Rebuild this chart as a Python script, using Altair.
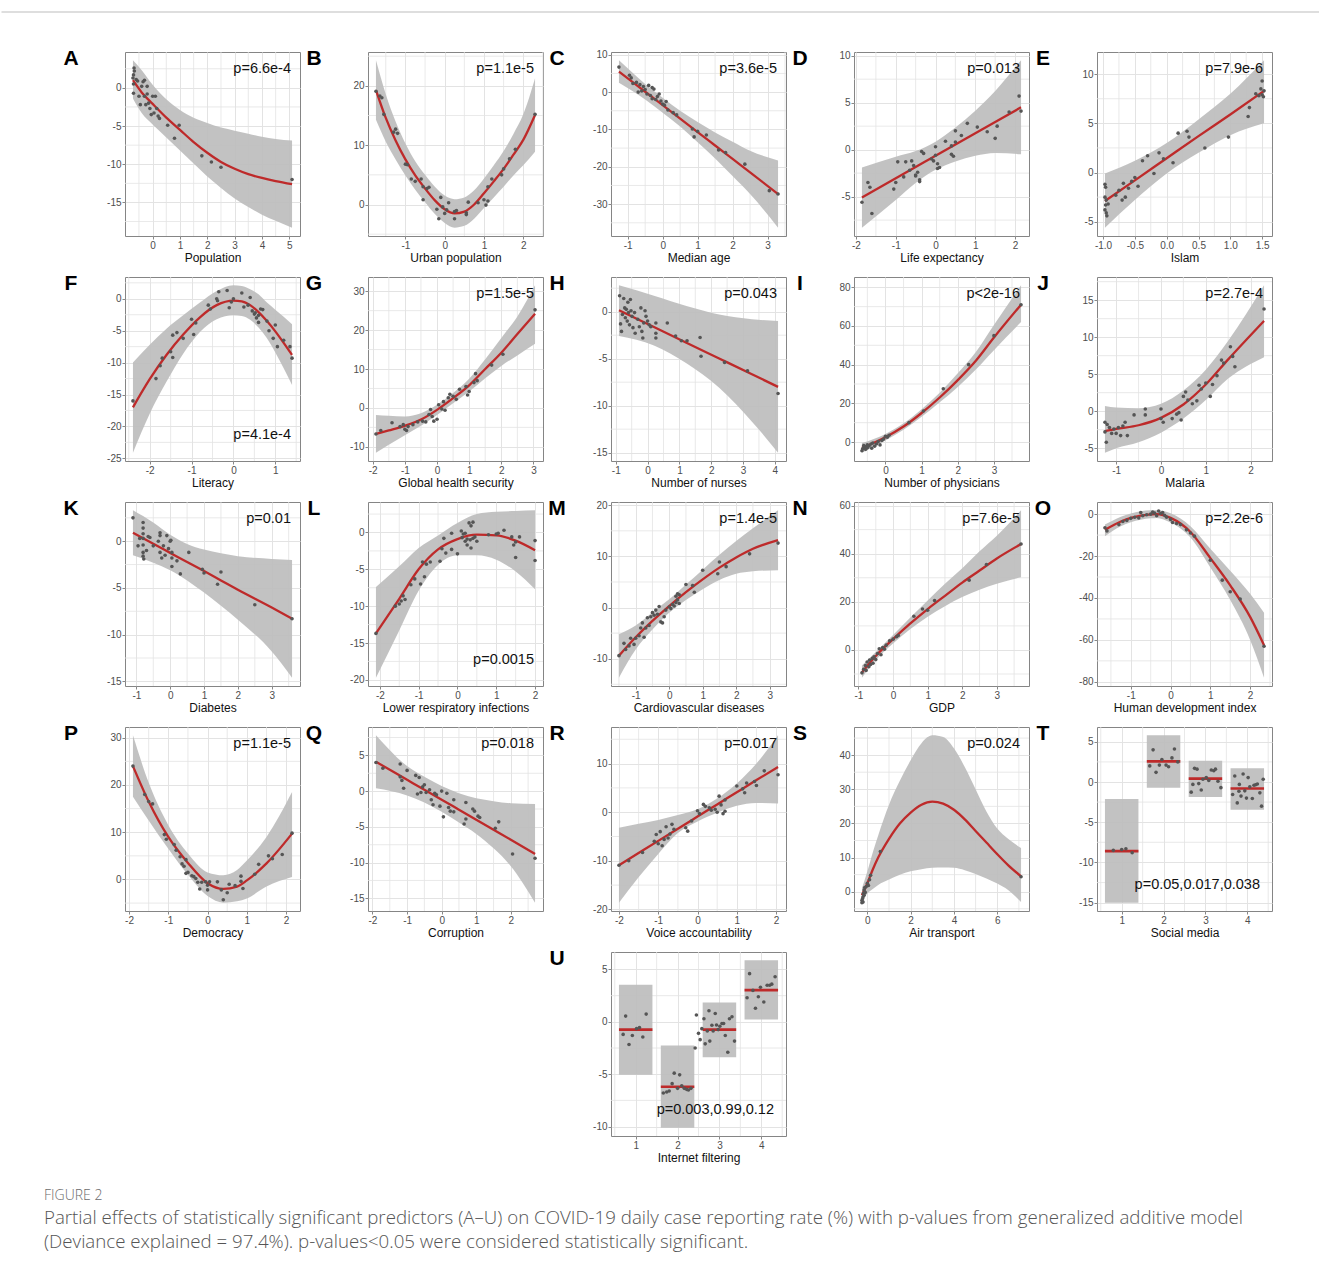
import altair as alt
import pandas as pd

# ---------------- data ----------------
A_cx = [-0.72, -0.4, 0, 0.5, 1, 1.5, 2, 2.5, 3, 3.5, 4, 4.5, 5.1]
A_cm = [1.0, -0.6, -2.1, -3.9, -5.5, -7.1, -8.5, -9.7, -10.6, -11.3, -11.8, -12.2, -12.6]
A_hi = [3.6, 2.3, 0.4, -1.5, -2.9, -3.9, -4.6, -5.2, -5.6, -6.0, -6.4, -6.7, -6.9]
A_lo = [-1.4, -3.3, -4.8, -6.5, -8.2, -9.9, -11.6, -13.1, -14.5, -15.6, -16.6, -17.4, -18.3]
A_pts = [(-0.68, 2.6), (-0.67, 2.2), (-0.7, 1.7), (-0.72, 1.3), (-0.7, 0.5), (-0.7, -0.7), (-0.6, 1.1),
         (-0.55, 0.9), (-0.5, -1.1), (-0.45, -2.2), (-0.4, 0.2), (-0.35, 0.8), (-0.3, 1.0), (-0.3, -1.1),
         (-0.25, -2.2), (-0.2, 0.2), (-0.2, -0.8), (-0.15, -2.0), (-0.1, -2.7), (-0.05, -3.5), (0.0, -1.1),
         (0.05, -3.3), (0.1, -1.1), (0.15, -2.7), (0.2, -3.7), (0.25, -4.0), (0.55, -4.9), (0.8, -6.6),
         (0.97, -4.9), (1.8, -8.9), (2.15, -9.7), (2.5, -10.4), (5.1, -12.0)]

B_cx = [-1.75, -1.5, -1.25, -1, -0.75, -0.5, -0.25, 0, 0.25, 0.5, 0.75, 1, 1.25, 1.5, 1.75, 2, 2.3]
B_cm = [19.3, 14.6, 10.8, 7.6, 4.9, 2.7, 0.7, -0.8, -1.5, -1.2, 0.0, 1.9, 3.9, 6.0, 8.4, 10.9, 15.1]
B_hi = [24.3, 18.6, 14.0, 10.3, 7.3, 5.0, 3.0, 1.5, 0.9, 1.2, 2.4, 4.4, 6.6, 9.0, 11.9, 15.2, 21.3]
B_lo = [14.3, 10.6, 7.6, 4.9, 2.5, 0.4, -1.6, -3.1, -3.9, -3.6, -2.4, -0.6, 1.2, 3.0, 4.9, 6.6, 8.9]
B_pts = [(-1.75, 19.1), (-1.65, 18.3), (-1.6, 18.0), (-1.55, 15.2), (-1.3, 12.2), (-1.25, 12.7), (-1.2, 12.0),
         (-1.0, 6.8), (-0.95, 6.7), (-0.85, 4.3), (-0.75, 3.9), (-0.6, 4.3), (-0.55, 3.0), (-0.45, 2.7),
         (-0.4, 2.9), (-0.55, 0.8), (-0.2, -0.8), (-0.15, -2.4), (-0.1, 1.2), (-0.05, -0.4), (0.0, -1.5),
         (0.1, 0.3), (0.05, -0.9), (0.25, -2.4), (0.25, -1.2), (0.3, -1.0), (0.55, -1.7), (0.55, -1.4),
         (0.6, 0.4), (0.85, 0.3), (1.0, 0.8), (1.05, -0.1), (1.1, 0.6), (1.1, 3.0), (1.2, 4.3), (1.45, 5.0),
         (1.5, 6.0), (1.65, 7.7), (1.8, 9.3), (2.3, 15.2)]

C_cx = [-1.25, -0.5, 0, 0.5, 1, 1.5, 2, 2.5, 3.3]
C_cm = [5.5, 0.1, -3.5, -7.1, -10.7, -14.3, -17.9, -21.5, -27.3]
C_hi = [8.5, 2.2, -1.5, -5.0, -8.0, -10.8, -13.3, -15.7, -18.3]
C_lo = [2.5, -2.0, -5.5, -9.2, -13.4, -17.8, -22.5, -27.3, -36.3]
C_pts = [(-1.25, 6.7), (-0.95, 4.5), (-0.9, 3.8), (-0.85, 2.3), (-0.75, 2.6), (-0.7, 0.0), (-0.65, 2.0),
         (-0.6, 0.3), (-0.55, 1.5), (-0.5, 0.7), (-0.45, -0.5), (-0.4, 1.8), (-0.35, -0.9), (-0.3, 1.2),
         (-0.3, -1.8), (-0.25, 0.8), (-0.2, -2.0), (-0.15, -1.2), (-0.1, -0.5), (-0.05, -2.4), (0.0, -3.2),
         (0.1, -2.5), (0.05, -3.5), (0.15, -4.8), (0.3, -5.5), (0.4, -6.1), (0.85, -9.9), (0.9, -12.0),
         (1.0, -10.5), (1.25, -11.5), (1.6, -15.5), (1.8, -16.2), (2.35, -19.3), (3.05, -26.4), (3.3, -27.3)]

D_cx = [-1.85, -1, -0.5, 0, 0.5, 1, 1.5, 2.15]
D_cm = [-5.1, -3.05, -1.85, -0.65, 0.55, 1.75, 2.95, 4.5]
D_hi = [-1.9, -0.75, -0.15, 0.85, 2.35, 4.15, 6.25, 9.5]
D_lo = [-8.3, -5.35, -3.55, -2.15, -1.25, -0.65, -0.35, -0.5]
D_pts = [(-1.85, -5.6), (-1.7, -3.5), (-1.65, -4.0), (-1.6, -6.8), (-1.05, -4.2), (-1.0, -3.5), (-0.95, -1.3),
         (-0.8, -2.9), (-0.75, -1.3), (-0.65, -2.2), (-0.6, -1.2), (-0.55, -1.7), (-0.5, -2.7), (-0.5, -2.8),
         (-0.45, -2.4), (-0.4, -3.2), (-0.4, -3.4), (-0.35, -0.2), (-0.3, -0.4), (-0.1, -1.0), (-0.05, -1.2),
         (0.0, 0.3), (0.0, -0.6), (0.05, -1.5), (0.05, -2.0), (0.1, -1.9), (0.25, 0.9), (0.4, 0.4), (0.4, -0.5),
         (0.45, -0.7), (0.5, 2.0), (0.5, 0.8), (0.65, 1.5), (0.8, 2.8), (1.05, 2.4), (1.3, 1.9), (1.5, 1.2),
         (1.55, 2.5), (1.85, 4.0), (2.1, 5.7), (2.15, 4.1)]

E_cx = [-0.97, -0.5, 0, 0.5, 1.0, 1.53]
E_cm = [-2.9, -0.8, 1.45, 3.7, 5.9, 8.3]
E_hi = [-0.1, 1.2, 3.0, 5.4, 8.0, 11.4]
E_lo = [-5.6, -2.8, -0.1, 2.0, 3.8, 5.0]
E_pts = [(-0.97, -1.2), (-0.96, -1.5), (-0.97, -2.5), (-0.95, -2.8), (-0.96, -3.3), (-0.97, -3.8),
         (-0.95, -4.1), (-0.94, -4.4), (-0.92, -3.2), (-0.8, -2.3), (-0.75, -1.8), (-0.7, -2.8), (-0.68, -1.1),
         (-0.65, -2.5), (-0.6, -1.6), (-0.55, -0.9), (-0.5, -0.5), (-0.45, -1.4), (-0.38, 1.2), (-0.3, 1.7),
         (-0.2, -0.1), (-0.12, 2.0), (-0.05, 1.4), (0.1, 1.0), (0.18, 4.0), (0.32, 4.2), (0.35, 3.6), (0.6, 2.5),
         (0.97, 3.6), (1.28, 5.7), (1.3, 6.6), (1.4, 8.0), (1.45, 7.8), (1.48, 8.5), (1.5, 9.3), (1.52, 7.7),
         (1.53, 8.3), (1.5, 7.9)]

F_cx = [-2.4, -2.0, -1.6, -1.2, -0.8, -0.4, 0.0, 0.2, 0.4, 0.6, 0.8, 1.0, 1.2, 1.4]
F_cm = [-17.0, -12.6, -8.8, -5.6, -2.9, -1.0, -0.3, -0.4, -1.0, -2.1, -3.5, -5.1, -6.9, -8.8]
F_hi = [-10.0, -7.2, -4.7, -2.6, -0.6, 1.2, 2.1, 2.0, 1.5, 0.7, -0.6, -1.7, -2.8, -4.0]
F_lo = [-24.1, -18.0, -13.0, -8.6, -5.2, -3.2, -2.6, -2.7, -3.3, -4.5, -6.2, -8.4, -10.9, -13.5]
F_pts = [(-2.4, -16.0), (-1.85, -12.5), (-1.75, -10.5), (-1.7, -9.3), (-1.5, -8.3), (-1.45, -9.2),
         (-1.45, -5.7), (-1.35, -5.3), (-1.2, -6.2), (-1.0, -3.2), (-0.95, -5.6), (-0.9, -3.8), (-0.6, -1.0),
         (-0.55, -1.6), (-0.4, 0.0), (-0.38, -0.3), (-0.35, 1.1), (-0.15, 1.3), (-0.1, -1.4), (-0.05, -0.5),
         (0.0, 0.0), (0.2, 0.9), (0.25, -1.3), (0.35, -1.0), (0.4, 0.2), (0.45, -1.9), (0.5, -2.4),
         (0.52, -2.2), (0.55, -3.0), (0.6, -2.6), (0.6, -3.7), (0.65, -1.6), (0.7, -1.7), (0.8, -3.5),
         (0.85, -5.0), (0.95, -6.2), (1.0, -4.1), (1.05, -7.5), (1.2, -6.5), (1.35, -7.5), (1.4, -9.3)]

G_cx = [-1.9, -1.5, -1, -0.5, 0, 0.5, 1, 1.5, 2, 2.5, 3.05]
G_cm = [-6.7, -5.8, -4.6, -3.0, -0.5, 2.5, 5.8, 10.0, 14.2, 19.0, 24.2]
G_hi = [-1.8, -2.0, -2.2, -1.4, 0.8, 3.8, 7.5, 12.5, 18.0, 23.5, 31.5]
G_lo = [-11.5, -9.5, -7.0, -4.6, -1.8, 1.2, 4.2, 7.6, 10.8, 13.5, 16.5]
G_pts = [(-1.9, -6.7), (-1.75, -5.8), (-1.4, -3.8), (-1.15, -4.8), (-1.05, -4.3), (-1.0, -5.5), (-0.95, -5.8),
         (-0.9, -4.8), (-0.75, -4.3), (-0.6, -3.6), (-0.45, -3.4), (-0.35, -3.6), (-0.25, -1.7), (-0.2, -0.4),
         (-0.15, -2.2), (-0.1, -3.4), (0.0, -2.9), (0.05, 0.8), (0.15, -0.3), (0.2, 1.6), (0.25, -0.6),
         (0.35, 2.6), (0.4, 3.5), (0.5, 3.0), (0.6, 2.2), (0.7, 4.8), (0.9, 5.5), (0.95, 3.3), (1.0, 4.2),
         (1.15, 6.5), (1.2, 8.8), (1.25, 7.0), (1.7, 11.0), (2.05, 13.8), (3.05, 25.2)]

H_cx = [-0.9, 0.2, 1.22, 2.25, 3.28, 4.1]
H_cm = [0.15, -1.64, -3.3, -4.98, -6.66, -8.0]
H_hi = [2.8, 1.7, 0.6, -0.3, -0.8, -1.0]
H_lo = [-2.6, -3.6, -5.5, -8.1, -11.7, -15.0]
H_pts = [(-0.88, 1.7), (-0.85, -1.3), (-0.82, -2.1), (-0.79, -0.3), (-0.75, 1.4), (-0.72, 0.4), (-0.7, -0.65),
         (-0.67, 0.25), (-0.64, -1.0), (-0.62, 1.0), (-0.6, -0.1), (-0.57, -1.4), (-0.54, 1.3), (-0.52, 0.1),
         (-0.49, -0.5), (-0.46, -1.7), (-0.41, -0.1), (-0.39, -2.3), (-0.31, -0.8), (-0.26, -1.6), (-0.21, 0.4),
         (-0.18, -2.1), (-0.15, -2.8), (-0.12, -1.2), (-0.08, 0.1), (-0.05, -0.5), (0.0, -1.0), (0.05, -1.4),
         (0.1, -1.6), (0.26, -1.2), (0.26, -2.3), (0.26, -2.8), (0.62, -1.2), (0.88, -2.6), (1.06, -3.1),
         (1.24, -3.1), (1.65, -2.75), (1.68, -4.75), (2.42, -5.4), (3.14, -6.3), (4.1, -8.7)]

I_cx = [-0.65, 0, 0.5, 1, 1.5, 2, 2.5, 3, 3.75]
I_cm = [-3, 2.5, 8, 15, 23, 32, 42, 54, 71]
I_hi = [-0.5, 4.2, 9.7, 17, 25.5, 35.5, 46.5, 60.5, 81]
I_lo = [-5.5, 0.8, 6.3, 13, 20.5, 28.5, 37.5, 47.5, 62]
I_pts = [(-0.65, -4.5), (-0.63, -3.5), (-0.6, -2.8), (-0.6, -1.8), (-0.55, -3.8), (-0.55, -2.5), (-0.5, -1.5),
         (-0.5, -3.0), (-0.45, -2.0), (-0.4, -1.0), (-0.38, -3.2), (-0.35, -0.5), (-0.3, -2.2), (-0.25, -1.0),
         (-0.2, 0.2), (-0.15, -1.5), (-0.1, 0.8), (-0.05, 1.5), (0.0, 3.0), (0.05, 2.5), (0.1, 3.5), (0.65, 10.0),
         (1.05, 16.0), (1.6, 27.5), (2.3, 40.0), (3.0, 55.0), (3.75, 71.0)]

J_cx = [-1.25, -1, -0.5, 0, 0.5, 1, 1.5, 2.3]
J_cm = [-2.7, -2.4, -1.9, -0.9, 0.9, 3.6, 7.0, 12.2]
J_hi = [0.7, 0.5, 0.4, 1.0, 2.8, 5.6, 9.5, 17.0]
J_lo = [-5.6, -5.0, -4.2, -2.9, -1.0, 1.5, 4.4, 7.3]
J_pts = [(-1.25, -1.5), (-1.25, -2.8), (-1.22, -4.2), (-1.2, -1.8), (-1.15, -2.2), (-1.1, -3.0), (-1.05, -2.4),
         (-1.0, -3.0), (-0.95, -2.2), (-0.9, -3.3), (-0.85, -2.0), (-0.8, -1.5), (-0.75, -3.3), (-0.6, -0.5),
         (-0.35, 0.3), (-0.35, -0.5), (0.0, 0.3), (0.0, -1.0), (0.05, -1.5), (0.25, -1.0), (0.35, -0.4),
         (0.4, -0.2), (0.45, -1.2), (0.5, 2.0), (0.55, 2.6), (0.6, 1.5), (0.7, 1.0), (0.8, 1.4), (0.85, 3.5),
         (0.9, 3.0), (1.0, 3.8), (1.1, 2.0), (1.15, 3.6), (1.25, 4.8), (1.35, 6.9), (1.4, 6.5), (1.55, 8.7),
         (1.6, 7.4), (1.65, 6.0), (2.3, 13.8)]

K_cx = [-1.1, -0.5, 0, 0.5, 1, 1.5, 2, 3, 3.6]
K_cm = [0.9, -0.27, -1.25, -2.23, -3.2, -4.2, -5.2, -7.1, -8.3]
K_hi = [3.3, 2.0, 0.7, -0.3, -0.9, -1.3, -1.6, -1.9, -2.0]
K_lo = [-1.5, -2.3, -3.1, -4.2, -5.5, -6.9, -8.4, -11.8, -14.6]
K_pts = [(-1.1, 2.5), (-0.95, -0.5), (-0.9, 0.3), (-0.8, 2.0), (-0.8, 1.4), (-0.8, 0.8), (-0.8, 0.3),
         (-0.8, -0.4), (-0.8, -1.2), (-0.8, -1.6), (-0.78, -1.9), (-0.7, -1.0), (-0.65, 0.5), (-0.6, 0.4),
         (-0.5, -0.5), (-0.35, 0.0), (-0.3, 0.9), (-0.3, 0.6), (-0.3, -1.2), (-0.25, -1.8), (-0.2, -0.5),
         (-0.15, -1.5), (-0.1, 0.6), (-0.05, -0.8), (0.0, 0.0), (0.02, 0.1), (0.05, -1.2), (0.05, -1.8),
         (0.05, -2.7), (0.2, -2.1), (0.3, -3.5), (0.55, -1.2), (0.95, -3.0), (1.0, -3.4), (1.4, -4.6),
         (1.5, -3.3), (2.5, -6.8), (3.6, -8.3)]

L_cx = [-2.1, -1.5, -1, -0.5, 0, 0.5, 1, 1.5, 2]
L_cm = [-13.7, -9.0, -5.0, -2.3, -0.9, -0.3, -0.4, -1.1, -2.4]
L_hi = [-7.4, -4.6, -2.1, -0.4, 1.3, 2.5, 2.8, 2.9, 3.0]
L_lo = [-19.7, -13.3, -7.9, -4.4, -3.1, -3.1, -3.7, -5.3, -7.7]
L_pts = [(-2.1, -13.7), (-1.6, -10.0), (-1.5, -9.7), (-1.45, -9.3), (-1.4, -8.6), (-1.35, -9.1), (-1.2, -7.1),
         (-1.1, -6.3), (-0.95, -7.0), (-0.9, -4.0), (-0.85, -6.0), (-0.8, -4.3), (-0.7, -4.0), (-0.45, -3.9),
         (-0.4, -2.2), (-0.35, -0.8), (-0.3, -2.8), (-0.15, -0.1), (-0.15, -2.3), (0.0, -2.9), (0.1, 0.2),
         (0.12, -0.7), (0.15, -0.2), (0.2, -1.2), (0.2, -0.1), (0.25, -0.9), (0.25, -1.7), (0.3, 1.3),
         (0.33, -1.0), (0.35, 0.9), (0.35, -2.1), (0.4, 1.4), (0.4, -0.8), (0.45, -0.6), (0.5, -1.2), (0.8, -0.3),
         (1.0, -0.2), (1.05, -0.1), (1.2, 0.3), (1.4, -0.6), (1.45, -1.7), (1.5, -3.4), (1.5, -1.3), (1.6, -0.6),
         (2.0, -1.1), (2.0, -3.8)]

M_cx = [-1.5, -1, -0.5, 0, 0.5, 1, 1.5, 2, 2.5, 3.25]
M_cm = [-9.4, -5.8, -2.6, 0.3, 3.0, 5.5, 7.8, 9.8, 11.5, 13.2]
M_hi = [-5.2, -3.5, -0.9, 1.6, 4.5, 7.4, 10.3, 13.0, 15.5, 19.0]
M_lo = [-13.7, -8.2, -4.3, -1.0, 1.5, 3.6, 5.4, 6.6, 7.1, 7.3]
M_pts = [(-1.5, -9.4), (-1.35, -7.0), (-1.3, -8.2), (-1.2, -7.5), (-1.15, -6.0), (-1.05, -7.2), (-1.0, -6.0),
         (-0.9, -5.5), (-0.85, -4.0), (-0.8, -3.0), (-0.75, -5.8), (-0.7, -4.0), (-0.65, -2.0), (-0.6, -3.5),
         (-0.55, -1.8), (-0.5, -1.0), (-0.45, -1.5), (-0.4, -0.5), (-0.35, -1.3), (-0.3, 0.2), (-0.25, -2.8),
         (-0.2, -3.0), (-0.15, -1.8), (-0.1, -0.5), (0.0, 0.1), (0.05, -0.2), (0.1, 0.6), (0.15, 0.3),
         (0.2, 2.2), (0.2, 1.0), (0.25, 2.7), (0.25, 1.5), (0.3, 0.8), (0.3, 2.5), (0.5, 4.5), (0.7, 4.3),
         (0.75, 3.0), (1.0, 7.3), (1.45, 6.6), (1.5, 8.9), (1.7, 8.0), (2.4, 10.5), (3.25, 12.6)]

N_cx = [-0.9, -0.5, 0, 0.5, 1, 1.5, 2, 2.5, 3, 3.7]
N_cm = [-9.3, -2.5, 4.5, 11, 17, 22.5, 28, 33, 38, 44]
N_hi = [-6.5, -0.8, 6.2, 13.5, 20.5, 27.5, 34, 41, 47.5, 58]
N_lo = [-11.5, -4.2, 2.7, 8.7, 13.8, 18.2, 22, 25, 27.5, 30.2]
N_pts = [(-0.9, -9.5), (-0.85, -8.0), (-0.8, -6.5), (-0.78, -8.5), (-0.75, -5.0), (-0.7, -7.0), (-0.68, -4.2),
         (-0.65, -6.0), (-0.6, -3.5), (-0.58, -5.5), (-0.55, -2.8), (-0.5, -4.0), (-0.45, -1.5), (-0.4, 0.5),
         (-0.35, -2.0), (-0.3, 1.0), (-0.25, 0.3), (-0.2, 2.0), (-0.1, 3.8), (0.0, 4.5), (0.1, 5.5), (0.15, 6.0),
         (0.6, 14.0), (0.85, 17.0), (1.0, 16.5), (1.2, 20.5), (2.2, 29.0), (2.7, 35.5), (3.7, 44.0)]

O_cx = [-1.65, -1.25, -1, -0.5, -0.35, 0, 0.5, 1, 1.5, 2, 2.35]
O_cm = [-7.5, -3.5, -1.8, -0.1, 0.0, -1.8, -8.5, -21, -34, -49, -62.5]
O_hi = [-5.0, -1.2, 0.3, 1.8, 1.8, 0.4, -5.8, -16.5, -27, -38, -47]
O_lo = [-10.5, -5.8, -3.9, -2.0, -1.8, -4.0, -11.2, -25.5, -41, -60, -78]
O_pts = [(-1.65, -6.5), (-1.6, -8.0), (-1.3, -5.0), (-1.2, -3.5), (-1.1, -3.0), (-1.0, -2.0), (-0.9, -1.5),
         (-0.8, -1.8), (-0.75, 0.8), (-0.7, -0.8), (-0.6, -0.3), (-0.5, 0.0), (-0.45, 1.0), (-0.4, 0.5),
         (-0.35, -0.8), (-0.3, 1.5), (-0.25, 0.3), (-0.2, 0.8), (-0.15, -0.5), (-0.1, -1.5), (0.0, -2.5),
         (0.05, -4.0), (0.15, -4.5), (0.25, -5.0), (0.4, -7.5), (0.5, -9.0), (0.6, -10.5), (1.0, -22.0),
         (1.3, -31.5), (1.5, -37.0), (1.75, -40.5), (2.35, -63.0)]

P_cx = [-1.9, -1.5, -1, -0.5, 0, 0.4, 0.75, 1, 1.5, 2.15]
P_cm = [24, 16.5, 9, 3.5, -0.8, -2.0, -1.5, -0.2, 3.4, 9.7]
P_hi = [30.5, 20.5, 11.5, 5.5, 1.5, 0.9, 2.0, 4.0, 9.0, 18.5]
P_lo = [17.5, 12.5, 6.5, 1.0, -3.5, -4.9, -4.6, -4.0, -1.5, 0.5]
P_pts = [(-1.9, 24.0), (-1.6, 18.0), (-1.5, 16.5), (-1.4, 16.0), (-1.1, 9.5), (-1.05, 8.5), (-0.85, 7.4),
         (-0.8, 6.2), (-0.7, 4.8), (-0.65, 3.3), (-0.6, 2.8), (-0.55, 4.2), (-0.55, 1.3), (-0.5, 1.5),
         (-0.4, 0.8), (-0.35, 0.6), (-0.3, 0.2), (-0.25, -0.6), (-0.2, -2.0), (-0.15, -0.6), (-0.05, -0.5),
         (0.0, -1.2), (0.0, -2.2), (0.05, -0.5), (0.25, -0.5), (0.35, -2.2), (0.4, -4.3), (0.5, -2.8),
         (0.55, -1.0), (0.7, -1.3), (0.85, 0.7), (0.85, -0.4), (0.9, -1.9), (1.2, 1.1), (1.3, 3.2), (1.55, 5.0),
         (1.65, 4.4), (1.9, 5.3), (2.15, 9.8)]

Q_cx = [-1.9, -1, -0.5, 0, 0.5, 1, 1.5, 2, 2.7]
Q_cm = [4.1, 1.58, 0.18, -1.2, -2.6, -4.0, -5.4, -6.8, -8.8]
Q_hi = [7.8, 3.5, 2.0, 0.7, -0.3, -1.0, -1.4, -1.7, -1.8]
Q_lo = [0.4, -0.6, -1.6, -2.9, -4.4, -6.0, -8.0, -10.5, -15.6]
Q_pts = [(-1.9, 4.0), (-1.7, 3.2), (-1.2, 3.8), (-1.2, 2.0), (-1.15, 1.5), (-1.1, 0.4), (-1.0, 2.9),
         (-0.75, 2.2), (-0.7, -0.4), (-0.65, 1.9), (-0.6, -0.2), (-0.55, 0.6), (-0.5, 0.9), (-0.45, -0.2),
         (-0.35, 0.2), (-0.3, -1.2), (-0.25, -1.9), (-0.2, -0.3), (-0.15, -0.5), (-0.05, -2.1), (0.0, 0.0),
         (0.05, -3.6), (0.15, -0.3), (0.2, -2.3), (0.25, -2.8), (0.35, -1.2), (0.35, -2.9), (0.7, -1.6),
         (0.7, -3.9), (0.65, -4.6), (0.9, -2.5), (0.95, -2.8), (1.05, -3.5), (1.1, -3.7), (1.55, -5.2),
         (1.65, -4.3), (2.05, -8.8), (2.7, -9.4)]

R_cx = [-2, -1.5, -1, -0.5, 0, 0.5, 1, 1.5, 2.05]
R_cm = [-10.9, -8.4, -5.9, -3.4, -0.9, 1.6, 4.1, 6.6, 9.3]
R_hi = [-3.2, -2.4, -1.6, -0.6, 0.6, 2.8, 5.9, 10.0, 15.8]
R_lo = [-18.6, -13.4, -8.6, -4.3, -1.9, -0.1, 1.3, 1.9, 1.8]
R_pts = [(-2.0, -10.9), (-1.75, -10.0), (-1.4, -8.3), (-1.1, -6.0), (-1.05, -4.6), (-1.0, -6.5), (-0.95, -4.0),
         (-0.9, -6.9), (-0.85, -5.6), (-0.8, -3.0), (-0.75, -5.3), (-0.7, -4.5), (-0.65, -2.5), (-0.6, -3.5),
         (-0.3, -3.2), (-0.25, -3.9), (-0.15, -1.8), (0.0, 0.3), (0.05, -0.3), (0.15, 1.6), (0.2, 1.2),
         (0.3, 0.9), (0.35, 0.4), (0.45, 0.6), (0.5, 0.0), (0.55, 3.3), (0.6, 1.5), (0.65, -0.3), (0.7, 2.5),
         (0.7, 0.2), (1.0, 5.4), (1.15, 4.8), (1.2, 4.0), (1.25, 6.0), (1.45, 6.3), (1.5, 5.5), (1.7, 8.5),
         (2.05, 7.7)]

S_cx = [-0.25, 0, 0.25, 0.5, 1, 1.5, 2, 2.5, 3, 3.5, 4, 4.5, 5, 5.5, 6, 6.5, 7.1]
S_cm = [-1.0, 2.5, 6.5, 10.0, 15.5, 20.0, 23.2, 25.5, 26.4, 25.8, 24.0, 21.2, 17.8, 14.4, 11.0, 7.8, 4.5]
S_hi = [1.0, 6.0, 11.5, 16.5, 25.5, 32.5, 38.5, 43.5, 45.8, 45.3, 42.0, 36.5, 30.0, 23.5, 18.5, 15.5, 12.8]
S_lo = [-2.8, -0.5, 0.8, 2.0, 3.6, 5.0, 6.0, 6.6, 7.0, 7.1, 7.0, 6.3, 5.2, 3.9, 2.4, 0.5, -3.0]
S_pts = [(-0.25, -3.2), (-0.25, -2.5), (-0.22, -2.0), (-0.2, -1.5), (-0.2, -3.0), (-0.18, -0.5), (-0.15, -1.0),
         (-0.15, 0.5), (-0.12, 1.2), (-0.1, -0.2), (-0.05, 1.5), (0.0, 2.5), (0.05, 1.8), (0.1, 3.5),
         (0.15, 4.8), (0.6, 11.8), (7.1, 4.4)]

T_grp = [1, 2, 3, 4]
T_mid = [-8.6, 2.56, 0.42, -0.8]
T_lo = [-15.0, -0.7, -1.85, -3.45]
T_hi = [-2.1, 5.8, 2.65, 1.72]
T_pts = [(0.8, -8.5), (1.0, -8.4), (1.1, -8.3), (1.25, -8.8),
         (1.67, 2.0), (1.75, 4.0), (1.82, 1.2), (1.9, 2.1), (1.96, 2.8), (2.06, 2.1), (2.12, 1.9), (2.2, 3.0),
         (2.26, 4.1), (2.34, 2.5),
         (2.66, -1.26), (2.7, -0.3), (2.74, 1.7), (2.8, 1.6), (2.84, -0.2), (2.9, -1.0), (2.94, 0.35),
         (3.02, 0.55), (3.08, 0.2), (3.14, 1.5), (3.2, 1.4), (3.24, 1.6), (3.3, 0.1), (3.37, -0.7),
         (3.65, -1.55), (3.7, 0.75), (3.76, -2.6), (3.8, -1.15), (3.81, -0.3), (3.85, -1.75), (3.9, 1.0),
         (3.94, -1.1), (3.98, -2.0), (4.02, 0.55), (4.06, -0.6), (4.12, -2.05), (4.16, -0.4), (4.2, -0.35),
         (4.24, -0.25), (4.3, -1.35), (4.34, -3.0), (4.38, 0.35)]

U_grp = [1, 2, 3, 4]
U_mid = [-0.74, -6.2, -0.74, 3.03]
U_lo = [-5.06, -10.1, -3.39, 0.23]
U_hi = [3.55, -2.26, 1.84, 5.87]
U_pts = [(0.7, -1.2), (0.76, 0.55), (0.84, -2.16), (0.92, -1.3), (1.02, -0.65), (1.09, -0.55), (1.17, -1.45),
         (1.25, 0.74),
         (1.66, -6.8), (1.74, -6.7), (1.8, -6.6), (1.87, -5.9), (1.92, -4.9), (2.0, -6.35), (2.05, -5.06),
         (2.1, -6.1), (2.16, -6.35), (2.22, -6.45), (2.26, -6.5), (2.32, -6.35),
         (2.42, -2.5), (2.45, 0.65), (2.5, -1.1), (2.54, -1.7), (2.58, -0.65), (2.63, 0.3), (2.66, -2.1),
         (2.71, -0.87), (2.75, 1.06), (2.77, -1.84), (2.82, -0.32), (2.85, -0.87), (2.9, 0.8), (2.93, -0.3),
         (2.97, -0.74), (3.01, -0.42), (3.06, -0.16), (3.1, -0.16), (3.14, -1.3), (3.2, -2.9), (3.24, 0.3),
         (3.3, 0.48), (3.36, -1.84),
         (3.66, 2.3), (3.72, 4.6), (3.8, 3.0), (3.86, 1.3), (3.93, 2.4), (3.98, 3.3), (4.06, 1.9), (4.14, 3.5),
         (4.2, 3.5), (4.25, 3.6), (4.33, 4.3)]

CAPTION_HEAD = "FIGURE 2"
CAPTION_1 = ("Partial effects of statistically significant predictors (A\u2013U) on COVID-19 daily case "
             "reporting rate (%) with p-values from generalized additive model")
CAPTION_2 = "(Deviance explained = 97.4%). p-values<0.05 were considered statistically significant."

# ---------------- styles ----------------
W, H = 175, 184
FONT = "Liberation Sans"
CAP_FONT = "Open Sans"
RIBBON = "#BDBDBD"
RED = "#BE2A2A"
DOT = "#555555"
GRID = "#E3E3E3"
BOX_HALF = 0.4


def expand(vals):
    lo, hi = min(vals), max(vals)
    r = hi - lo
    return [lo - 0.05 * r, hi + 0.05 * r]


def minors(ticks, dom):
    step = ticks[1] - ticks[0]
    out = []
    for k in range(-60, 60):
        v = ticks[0] + step * (k + 0.5)
        if dom[0] < v < dom[1]:
            out.append(v)
    return out


def make_axis(vals, title, fmt):
    return alt.Axis(values=vals, title=title, format=fmt,
                    labelExpr="replace(datum.label, '\u2212', '-')",
                    grid=True, gridColor=GRID, gridWidth=1,
                    labelOverlap=False, labelFlush=False)


def decorations(letter, ptext, pos, pright):
    lab = alt.Chart(pd.DataFrame({"t": [letter]})).mark_text(
        font=FONT, fontSize=21, fontWeight="bold", color="#000000", align="center", baseline="alphabetic"
    ).encode(x=alt.value(-54), y=alt.value(13), text="t:N")
    ytxt = 21 if pos == "top" else H - 22
    pt = alt.Chart(pd.DataFrame({"t": [ptext]})).mark_text(
        font=FONT, fontSize=14.5, color="#111111", align="right", baseline="alphabetic"
    ).encode(x=alt.value(W - pright), y=alt.value(ytxt), text="t:N")
    return [lab, pt]


def top_rule():
    # thin grey rule across the page top, drawn from panel A's origin
    return [alt.Chart(pd.DataFrame({"a": [0]})).mark_rule(color="#BDBDBD", strokeWidth=1).encode(
        x=alt.value(-123.5), x2=alt.value(1194), y=alt.value(-40))]


def panel(letter, xtitle, xt, yt, fmt, cx, cm, clo, chi, pts, ptext, pos="top", extra=None):
    px = [p[0] for p in pts]
    py = [p[1] for p in pts]
    xdom = expand(cx + px)
    ydom = expand(clo + chi + cm + py)
    sx = alt.Scale(domain=xdom, nice=False, zero=False)
    sy = alt.Scale(domain=ydom, nice=False, zero=False)
    ax = make_axis(xt, xtitle, fmt)
    ay = make_axis(yt, None, "d")

    def X(f):
        return alt.X(f, type="quantitative", scale=sx, axis=ax)

    def Y(f):
        return alt.Y(f, type="quantitative", scale=sy, axis=ay)

    curve = pd.DataFrame({"x": cx, "m": cm, "lo": clo, "hi": chi})
    dots = pd.DataFrame({"x": px, "y": py})
    gx = alt.Chart(pd.DataFrame({"v": minors(xt, xdom)})).mark_rule(color=GRID, strokeWidth=0.8).encode(x=X("v"))
    gy = alt.Chart(pd.DataFrame({"v": minors(yt, ydom)})).mark_rule(color=GRID, strokeWidth=0.8).encode(y=Y("v"))
    band = alt.Chart(curve).mark_area(color=RIBBON, opacity=0.92, interpolate="monotone").encode(
        x=X("x"), y=Y("lo"), y2=alt.Y2("hi"))
    line = alt.Chart(curve).mark_line(color=RED, strokeWidth=2.3, interpolate="monotone").encode(
        x=X("x"), y=Y("m"))
    pnt = alt.Chart(dots).mark_circle(color=DOT, size=13, opacity=1).encode(x=X("x"), y=Y("y"))
    layers = [gx, gy, band, line, pnt] + decorations(letter, ptext, pos, 9) + (extra or [])
    return alt.layer(*layers).properties(width=W, height=H)


def cat_panel(letter, xtitle, yt, grp, gm, glo, ghi, pts, ptext):
    px = [p[0] for p in pts]
    py = [p[1] for p in pts]
    xl = [g - BOX_HALF for g in grp]
    xr = [g + BOX_HALF for g in grp]
    xdom = expand(xl + xr)
    ydom = expand(glo + ghi + py)
    sx = alt.Scale(domain=xdom, nice=False, zero=False)
    sy = alt.Scale(domain=ydom, nice=False, zero=False)
    ax = make_axis(grp, xtitle, "d")
    ay = make_axis(yt, None, "d")

    def X(f):
        return alt.X(f, type="quantitative", scale=sx, axis=ax)

    def Y(f):
        return alt.Y(f, type="quantitative", scale=sy, axis=ay)

    boxes = pd.DataFrame({"x": xl, "x2": xr, "m": gm, "lo": glo, "hi": ghi})
    dots = pd.DataFrame({"x": px, "y": py})
    gx = alt.Chart(pd.DataFrame({"v": minors(grp, xdom)})).mark_rule(color=GRID, strokeWidth=0.8).encode(x=X("v"))
    gy = alt.Chart(pd.DataFrame({"v": minors(yt, ydom)})).mark_rule(color=GRID, strokeWidth=0.8).encode(y=Y("v"))
    rect = alt.Chart(boxes).mark_rect(color=RIBBON, opacity=0.92).encode(
        x=X("x"), x2=alt.X2("x2"), y=Y("lo"), y2=alt.Y2("hi"))
    rule = alt.Chart(boxes).mark_rule(color=RED, strokeWidth=2.6).encode(
        x=X("x"), x2=alt.X2("x2"), y=Y("m"))
    pnt = alt.Chart(dots).mark_circle(color=DOT, size=13, opacity=1).encode(x=X("x"), y=Y("y"))
    layers = [gx, gy, rect, rule, pnt] + decorations(letter, ptext, "bottom", 12)
    return alt.layer(*layers).properties(width=W, height=H)


def caption_cell():
    # sits in the empty cell under panel P; origin = (page 124, page 951)
    df = pd.DataFrame({"a": [0]})
    head = alt.Chart(df).mark_text(text=CAPTION_HEAD, font=CAP_FONT, fontSize=14, fontWeight=300,
                                   color="#6B6B6B", align="left", baseline="alphabetic").encode(
        x=alt.value(-81), y=alt.value(248))
    l1 = alt.Chart(df).mark_text(text=CAPTION_1, font=CAP_FONT, fontSize=18.7, fontWeight=300, color="#555555",
                                 align="left", baseline="alphabetic").encode(x=alt.value(-81), y=alt.value(272))
    l2 = alt.Chart(df).mark_text(text=CAPTION_2, font=CAP_FONT, fontSize=18.7, fontWeight=300, color="#555555",
                                 align="left", baseline="alphabetic").encode(x=alt.value(-81), y=alt.value(296))
    return alt.layer(head, l1, l2).properties(width=W, height=H, view=alt.ViewBackground(stroke="transparent"))


def blank():
    return alt.Chart(pd.DataFrame({"a": [0]})).mark_point(opacity=0).encode(
        x=alt.value(0), y=alt.value(0)).properties(width=W, height=H, view=alt.ViewBackground(stroke="transparent"))


panels = [
    panel("A", "Population", [0, 1, 2, 3, 4, 5], [-15, -10, -5, 0], "d", A_cx, A_cm, A_lo, A_hi, A_pts, "p=6.6e-4",
          extra=top_rule()),
    panel("B", "Urban population", [-1, 0, 1, 2], [0, 10, 20], "d", B_cx, B_cm, B_lo, B_hi, B_pts, "p=1.1e-5"),
    panel("C", "Median age", [-1, 0, 1, 2, 3], [-30, -20, -10, 0, 10], "d", C_cx, C_cm, C_lo, C_hi, C_pts, "p=3.6e-5"),
    panel("D", "Life expectancy", [-2, -1, 0, 1, 2], [-5, 0, 5, 10], "d", D_cx, D_cm, D_lo, D_hi, D_pts, "p=0.013"),
    panel("E", "Islam", [-1.0, -0.5, 0.0, 0.5, 1.0, 1.5], [-5, 0, 5, 10], ".1f", E_cx, E_cm, E_lo, E_hi, E_pts, "p=7.9e-6"),
    panel("F", "Literacy", [-2, -1, 0, 1], [-25, -20, -15, -10, -5, 0], "d", F_cx, F_cm, F_lo, F_hi, F_pts, "p=4.1e-4", "bottom"),
    panel("G", "Global health security", [-2, -1, 0, 1, 2, 3], [-10, 0, 10, 20, 30], "d", G_cx, G_cm, G_lo, G_hi, G_pts, "p=1.5e-5"),
    panel("H", "Number of nurses", [-1, 0, 1, 2, 3, 4], [-15, -10, -5, 0], "d", H_cx, H_cm, H_lo, H_hi, H_pts, "p=0.043"),
    panel("I", "Number of physicians", [0, 1, 2, 3], [0, 20, 40, 60, 80], "d", I_cx, I_cm, I_lo, I_hi, I_pts, "p<2e-16"),
    panel("J", "Malaria", [-1, 0, 1, 2], [-5, 0, 5, 10, 15], "d", J_cx, J_cm, J_lo, J_hi, J_pts, "p=2.7e-4"),
    panel("K", "Diabetes", [-1, 0, 1, 2, 3], [-15, -10, -5, 0], "d", K_cx, K_cm, K_lo, K_hi, K_pts, "p=0.01"),
    panel("L", "Lower respiratory infections", [-2, -1, 0, 1, 2], [-20, -15, -10, -5, 0], "d", L_cx, L_cm, L_lo, L_hi, L_pts, "p=0.0015", "bottom"),
    panel("M", "Cardiovascular diseases", [-1, 0, 1, 2, 3], [-10, 0, 10, 20], "d", M_cx, M_cm, M_lo, M_hi, M_pts, "p=1.4e-5"),
    panel("N", "GDP", [-1, 0, 1, 2, 3], [0, 20, 40, 60], "d", N_cx, N_cm, N_lo, N_hi, N_pts, "p=7.6e-5"),
    panel("O", "Human development index", [-1, 0, 1, 2], [-80, -60, -40, -20, 0], "d", O_cx, O_cm, O_lo, O_hi, O_pts, "p=2.2e-6"),
    panel("P", "Democracy", [-2, -1, 0, 1, 2], [0, 10, 20, 30], "d", P_cx, P_cm, P_lo, P_hi, P_pts, "p=1.1e-5"),
    panel("Q", "Corruption", [-2, -1, 0, 1, 2], [-15, -10, -5, 0, 5], "d", Q_cx, Q_cm, Q_lo, Q_hi, Q_pts, "p=0.018"),
    panel("R", "Voice accountability", [-2, -1, 0, 1, 2], [-20, -10, 0, 10], "d", R_cx, R_cm, R_lo, R_hi, R_pts, "p=0.017"),
    panel("S", "Air transport", [0, 2, 4, 6], [0, 10, 20, 30, 40], "d", S_cx, S_cm, S_lo, S_hi, S_pts, "p=0.024"),
    cat_panel("T", "Social media", [-15, -10, -5, 0, 5], T_grp, T_mid, T_lo, T_hi, T_pts, "p=0.05,0.017,0.038"),
    caption_cell(),
    blank(),
    cat_panel("U", "Internet filtering", [-10, -5, 0, 5], U_grp, U_mid, U_lo, U_hi, U_pts, "p=0.003,0.99,0.12"),
]

chart = alt.ConcatChart(
    concat=panels, columns=5, spacing={"row": 41, "column": 68}, bounds="flush",
    padding={"left": 0, "top": 11, "right": 0, "bottom": 0},
    background="white",
).configure_view(
    stroke="#858585", strokeWidth=1
).configure_axis(
    labelFont=FONT, labelFontSize=10, labelColor="#4D4D4D", labelPadding=1,
    titleFont=FONT, titleFontSize=12, titleFontWeight="normal", titleColor="#111111", titlePadding=2,
    tickColor="#555555", tickSize=3, tickWidth=0.7, domain=False
)

chart.save("out.html", embed_options={"renderer": "svg", "actions": False})
